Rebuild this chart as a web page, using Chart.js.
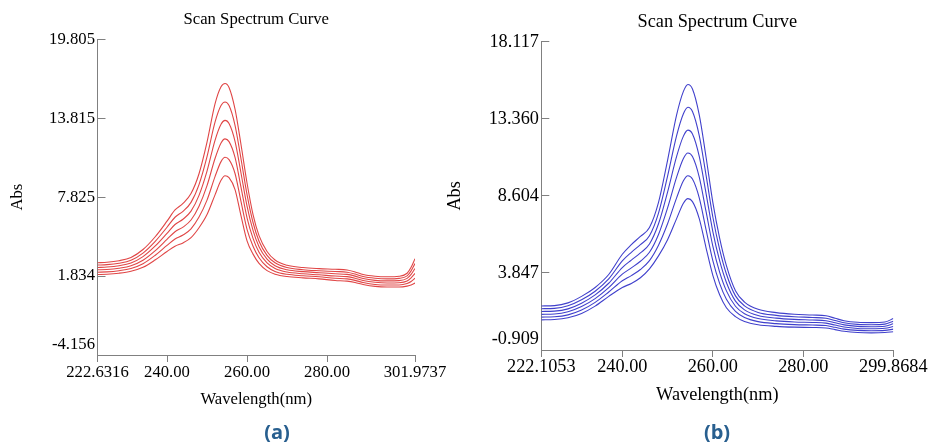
<!DOCTYPE html>
<html>
<head>
<meta charset="utf-8">
<script src="https://cdn.jsdelivr.net/npm/chart.js@4"></script>
<style>
  html, body { margin: 0; padding: 0; background: #ffffff; }
  #wrap { position: relative; width: 929px; height: 442px; overflow: hidden; background: #ffffff; }
  canvas { position: absolute; top: 0; }
  .panel { position: absolute; top: 420px; width: 60px; height: 24px; line-height: 24px; text-align: center;
           font-family: "Open Sans", "Liberation Sans", sans-serif; font-weight: bold; font-size: 20px; color: #285f8f; }
</style>
</head>
<body>
<div id="wrap">
  <canvas id="chartA" width="460" height="442" style="left:0px;width:460px;height:442px"></canvas>
  <canvas id="chartB" width="494" height="442" style="left:435px;width:494px;height:442px"></canvas>
  <div class="panel" style="left:247px">(a)</div>
  <div class="panel" style="left:687px">(b)</div>
</div>
<script>
// ---------------- data: panel (a) ----------------
const titleText = "Scan Spectrum Curve";
const xTitleText = "Wavelength(nm)";
const yTitleText = "Abs";

const aWavelength = [222.6316, 225, 228, 231, 234, 237, 240, 242, 244, 246, 248, 250, 252, 253.5, 254.5, 255.5, 257, 258.5, 260, 261.5, 263, 265, 267, 270, 274, 278, 282, 285, 287, 289, 292, 295, 298, 300, 301, 301.9737];
const aCurve1 = [2.85, 2.88, 3.0, 3.25, 3.85, 4.8, 6.0, 6.85, 7.35, 8.1, 9.6, 12.0, 14.9, 16.2, 16.45, 16.15, 14.5, 11.8, 8.9, 6.5, 4.9, 3.7, 3.05, 2.65, 2.48, 2.4, 2.35, 2.3, 2.15, 1.95, 1.82, 1.78, 1.82, 2.05, 2.5, 3.15];
const aCurve2 = [2.67, 2.70, 2.81, 3.04, 3.58, 4.45, 5.54, 6.3, 6.75, 7.43, 8.78, 10.9, 13.52, 14.78, 15.05, 14.78, 13.28, 10.72, 8.02, 5.9, 4.48, 3.41, 2.84, 2.48, 2.32, 2.24, 2.18, 2.13, 1.99, 1.8, 1.67, 1.62, 1.66, 1.85, 2.23, 2.78];
const aCurve3 = [2.49, 2.52, 2.62, 2.83, 3.31, 4.1, 5.08, 5.75, 6.15, 6.76, 7.96, 9.8, 12.14, 13.36, 13.65, 13.41, 12.06, 9.64, 7.14, 5.3, 4.06, 3.12, 2.62, 2.31, 2.17, 2.09, 2.01, 1.96, 1.83, 1.65, 1.51, 1.47, 1.49, 1.66, 1.96, 2.41];
const aCurve4 = [2.31, 2.33, 2.43, 2.62, 3.04, 3.75, 4.62, 5.2, 5.55, 6.09, 7.14, 8.7, 10.76, 11.94, 12.25, 12.04, 10.84, 8.56, 6.26, 4.7, 3.64, 2.83, 2.41, 2.14, 2.01, 1.93, 1.84, 1.79, 1.67, 1.5, 1.36, 1.31, 1.33, 1.46, 1.69, 2.04];
const aCurve5 = [2.13, 2.15, 2.24, 2.41, 2.77, 3.4, 4.16, 4.65, 4.95, 5.42, 6.32, 7.6, 9.38, 10.52, 10.85, 10.67, 9.62, 7.48, 5.38, 4.1, 3.22, 2.54, 2.19, 1.97, 1.86, 1.78, 1.67, 1.62, 1.51, 1.35, 1.20, 1.16, 1.16, 1.27, 1.42, 1.67];
const aCurve6 = [1.95, 1.97, 2.05, 2.2, 2.5, 3.05, 3.7, 4.1, 4.35, 4.75, 5.5, 6.5, 8.0, 9.1, 9.45, 9.3, 8.4, 6.4, 4.5, 3.5, 2.8, 2.25, 1.98, 1.8, 1.7, 1.62, 1.5, 1.45, 1.35, 1.2, 1.05, 1.0, 1.0, 1.07, 1.15, 1.3];
const aXTicks = [222.6316, 240, 260, 280, 301.9737];
const aXTickLabels = ["222.6316", "240.00", "260.00", "280.00", "301.9737"];
const aYTicks = [-4.156, 1.834, 7.825, 13.815, 19.805];
const aYTickLabels = ["-4.156", "1.834", "7.825", "13.815", "19.805"];

// ---------------- data: panel (b) ----------------
const bWavelength = [222.1053, 225, 228, 231, 234, 237, 240, 242, 244, 246, 248, 250, 252, 253.5, 254.5, 255.5, 257, 258.5, 260, 261.5, 263, 265, 267, 270, 274, 278, 282, 285, 287, 289, 292, 295, 298, 299.8684];
const bCurve1 = [1.81, 1.83, 2.0, 2.4, 2.95, 3.75, 5.0, 5.6, 6.1, 6.65, 8.2, 10.8, 13.6, 15.05, 15.48, 15.2, 13.6, 11.0, 8.2, 6.0, 4.3, 2.75, 2.05, 1.6, 1.4, 1.3, 1.25, 1.2, 1.05, 0.9, 0.8, 0.78, 0.82, 1.03];
const bCurve2 = [1.64, 1.66, 1.82, 2.19, 2.72, 3.48, 4.59, 5.12, 5.59, 6.14, 7.54, 9.82, 12.32, 13.67, 14.07, 13.81, 12.32, 9.88, 7.3, 5.3, 3.78, 2.43, 1.81, 1.41, 1.23, 1.14, 1.10, 1.05, 0.91, 0.77, 0.67, 0.65, 0.69, 0.87];
const bCurve3 = [1.47, 1.49, 1.63, 1.98, 2.49, 3.21, 4.18, 4.64, 5.08, 5.63, 6.88, 8.84, 11.04, 12.29, 12.66, 12.42, 11.04, 8.76, 6.4, 4.6, 3.26, 2.11, 1.57, 1.22, 1.06, 0.98, 0.94, 0.9, 0.77, 0.64, 0.55, 0.53, 0.56, 0.71];
const bCurve4 = [1.29, 1.31, 1.45, 1.77, 2.26, 2.94, 3.77, 4.16, 4.57, 5.12, 6.22, 7.86, 9.76, 10.91, 11.25, 11.03, 9.76, 7.64, 5.5, 3.9, 2.74, 1.79, 1.33, 1.03, 0.89, 0.82, 0.79, 0.75, 0.63, 0.51, 0.42, 0.40, 0.43, 0.54];
const bCurve5 = [1.12, 1.14, 1.26, 1.56, 2.03, 2.67, 3.36, 3.68, 4.06, 4.61, 5.56, 6.88, 8.48, 9.53, 9.84, 9.64, 8.48, 6.52, 4.6, 3.2, 2.22, 1.47, 1.09, 0.84, 0.72, 0.66, 0.63, 0.6, 0.49, 0.38, 0.30, 0.28, 0.30, 0.38];
const bCurve6 = [0.95, 0.97, 1.08, 1.35, 1.8, 2.4, 2.95, 3.2, 3.55, 4.1, 4.9, 5.9, 7.2, 8.15, 8.43, 8.25, 7.2, 5.4, 3.7, 2.5, 1.7, 1.15, 0.85, 0.65, 0.55, 0.5, 0.48, 0.45, 0.35, 0.25, 0.17, 0.15, 0.17, 0.22];
const bXTicks = [222.1053, 240, 260, 280, 299.8684];
const bXTickLabels = ["222.1053", "240.00", "260.00", "280.00", "299.8684"];
const bYTicks = [-0.909, 3.847, 8.604, 13.360, 18.117];
const bYTickLabels = ["-0.909", "3.847", "8.604", "13.360", "18.117"];

// ---------------- chart builder ----------------
const SERIF = "'Liberation Serif', 'Times New Roman', serif";
const AXIS_GRAY = '#808080';

function buildChart(id, p) {
  const datasets = p.curves.map(c => ({
    data: p.wl.map((x, i) => ({ x: x, y: c[i] })),
    borderColor: p.color,
    borderWidth: 1.1,
    pointRadius: 0,
    fill: false,
    cubicInterpolationMode: 'monotone'
  }));
  return new Chart(document.getElementById(id), {
    type: 'line',
    data: { datasets },
    options: {
      responsive: false,
      animation: false,
      devicePixelRatio: 1,
      layout: { padding: { left: 0, top: 0, right: p.padRight, bottom: p.padBottom } },
      plugins: {
        legend: { display: false },
        tooltip: { enabled: false },
        title: {
          display: true,
          text: titleText,
          fullSize: false,
          color: '#000',
          font: { family: SERIF, size: p.fs, weight: 'normal', lineHeight: 1 },
          padding: { top: p.titleTop, bottom: p.titleBottom }
        }
      },
      scales: {
        x: {
          type: 'linear',
          position: 'bottom',
          min: p.xMin, max: p.xMax,
          afterBuildTicks: s => { s.ticks = p.xTicks.map(v => ({ value: v })); },
          afterFit: s => { s.height = p.xHeight; },
          ticks: {
            autoSkip: false, maxRotation: 0, minRotation: 0,
            color: '#000', padding: p.xTickPad,
            font: { family: SERIF, size: p.fs, lineHeight: 1 },
            callback: (v, i) => p.xTickLabels[i]
          },
          grid: { drawOnChartArea: false, drawTicks: true, tickLength: 7, color: AXIS_GRAY, lineWidth: 1 },
          border: { display: true, color: AXIS_GRAY, width: 1 },
          title: {
            display: true, text: xTitleText, color: '#000',
            font: { family: SERIF, size: p.fs, lineHeight: 1.2 },
            padding: { top: 0, bottom: p.xTitlePadBottom }
          }
        },
        y: {
          type: 'linear',
          position: 'left',
          min: p.yMin, max: p.yMax,
          afterBuildTicks: s => { s.ticks = p.yTicks.map(v => ({ value: v })); },
          afterFit: s => { s.width = p.yWidth; },
          ticks: {
            autoSkip: false, color: '#000', padding: p.yTickPad,
            font: { family: SERIF, size: p.fs, lineHeight: 1.2 },
            // the lowest label sits just above the x axis, as in the original
            callback: (v, i) => (i === 0 ? [p.yTickLabels[i], ''] : p.yTickLabels[i])
          },
          grid: { drawOnChartArea: false, drawTicks: true, tickLength: -8, color: AXIS_GRAY, lineWidth: 1 },
          border: { display: true, color: AXIS_GRAY, width: 1 },
          title: {
            display: true, text: yTitleText, color: '#000',
            font: { family: SERIF, size: p.fs, lineHeight: 1.2 },
            padding: { top: p.yTitlePadTop, bottom: 0 }
          }
        }
      }
    }
  });
}

buildChart('chartA', {
  wl: aWavelength,
  curves: [aCurve1, aCurve2, aCurve3, aCurve4, aCurve5, aCurve6],
  color: '#e04646',
  xMin: 222.6316, xMax: 301.9737, yMin: -4.156, yMax: 19.805,
  xTicks: aXTicks, xTickLabels: aXTickLabels, yTicks: aYTicks, yTickLabels: aYTickLabels,
  fs: 16.7, titleTop: 11.65, titleBottom: 10.95,
  padRight: 45, padBottom: 32, xHeight: 55, yWidth: 97.5,
  xTickPad: 2.65, xTitlePadBottom: 0, yTickPad: 10.5, yTitlePadTop: 8
});

buildChart('chartB', {
  wl: bWavelength,
  curves: [bCurve1, bCurve2, bCurve3, bCurve4, bCurve5, bCurve6],
  color: '#4040cc',
  xMin: 222.1053, xMax: 299.8684, yMin: -0.909, yMax: 18.117,
  xTicks: bXTicks, xTickLabels: bXTickLabels, yTicks: bYTicks, yTickLabels: bYTickLabels,
  fs: 18.3, titleTop: 12.85, titleBottom: 10.55,
  padRight: 35.7, padBottom: 32, xHeight: 60, yWidth: 106.3,
  xTickPad: 1, xTitlePadBottom: 4, yTickPad: 10.3, yTitlePadTop: 9
});
</script>
</body>
</html>
